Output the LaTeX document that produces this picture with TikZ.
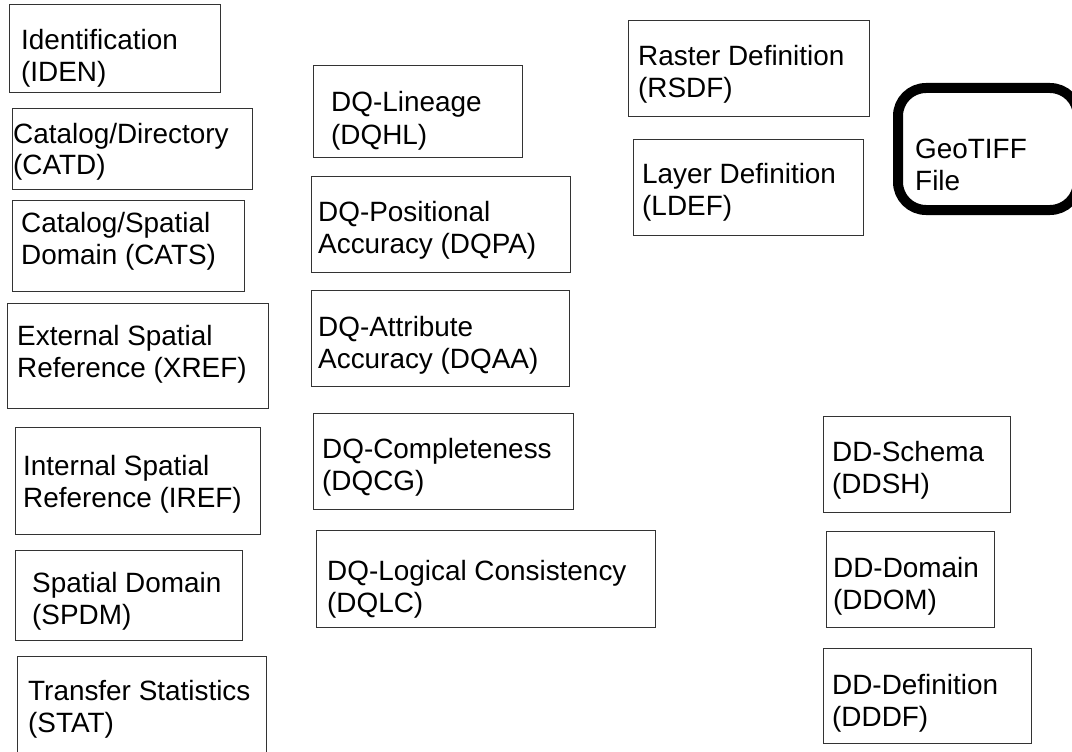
\documentclass[tikz,border=0pt]{standalone}
\usepackage{fontspec}
\setmainfont{Liberation Sans}
\usetikzlibrary{fit}

% one record box: name, corners (x1,y1) (x2,y2), text origin x, first baseline y, two lines
\newcommand\recbox[9]{%
  \node[recframe, fit={(#2,#3) (#4,#5)}] (#1) {};
  \node[rectext] (#1-a) at (#6,#7) {#8};
  \node[rectext] (#1-b) at (#6,#7+32) {#9};
}

\begin{document}
\begin{tikzpicture}[x=1pt, y=-1pt,
  recframe/.style={draw=black!80, line width=1pt, inner sep=0pt, outer sep=0pt},
  rectext/.style={anchor=base west, inner sep=0pt, font=\fontsize{27.9}{32}\selectfont},
  filebox/.style={draw=black, line width=10pt, rounded corners=28pt, inner sep=0pt, outer sep=0pt}]

\clip (0,0) rectangle (1072,752);
\fill[white] (0,0) rectangle (1072,752);

% left column
\recbox{iden}{9}{5}{220}{93}{21}{50}{Identification}{(IDEN)}
\recbox{catd}{12}{109}{252}{189}{13}{143}{Catalog/Directory}{(CATD)}
\recbox{cats}{12}{200}{244}{291}{21}{232}{Catalog/Spatial}{Domain (CATS)}
\recbox{xref}{7}{303}{268}{408}{17}{345}{External Spatial}{Reference (XREF)}
\recbox{iref}{15}{427}{260}{534}{23}{475}{Internal Spatial}{Reference (IREF)}
\recbox{spdm}{15}{550}{242}{640}{32}{592}{Spatial Domain}{(SPDM)}
\recbox{stat}{17}{656}{266}{770}{28}{700}{Transfer Statistics}{(STAT)}

% data quality column
\recbox{dqhl}{313}{66}{522}{157}{331}{112}{DQ-Lineage}{(DQHL)}
\recbox{dqpa}{311}{176}{570}{272}{318}{221}{DQ-Positional}{Accuracy (DQPA)}
\recbox{dqaa}{311}{290}{569}{386}{318}{336}{DQ-Attribute}{Accuracy (DQAA)}
\recbox{dqcg}{313}{413}{573}{509}{322}{458}{DQ-Completeness}{(DQCG)}
\recbox{dqlc}{316}{530}{655}{627}{327}{580}{DQ-Logical Consistency}{(DQLC)}

% raster and layer definitions
\recbox{rsdf}{628}{21}{869}{117}{638}{66}{Raster Definition}{(RSDF)}
\recbox{ldef}{633}{139}{863}{235}{642}{183}{Layer Definition}{(LDEF)}

% data dictionary column
\recbox{ddsh}{823}{416}{1010}{512}{832}{461}{DD-Schema}{(DDSH)}
\recbox{ddom}{826}{531}{994}{627}{833}{577}{DD-Domain}{(DDOM)}
\recbox{dddf}{823}{648}{1031}{743}{832}{694}{DD-Definition}{(DDDF)}

% the GeoTIFF file
\draw[filebox] (898,88) rectangle (1078,210);
\node[rectext] (geo-a) at (915,158) {GeoTIFF};
\node[rectext] (geo-b) at (915,190) {File};

\end{tikzpicture}
\end{document}
